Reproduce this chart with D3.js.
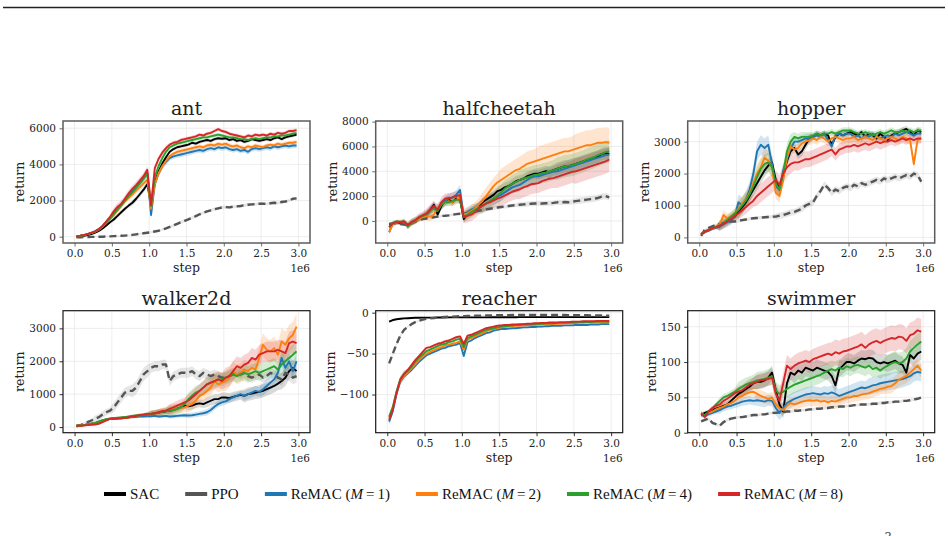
<!DOCTYPE html>
<html>
<head>
<meta charset="utf-8" />
<title>ReMAC returns</title>
<script src="https://d3js.org/d3.v7.min.js"></script>
<style>
  body { margin: 0; background: #fff; }
  svg { display: block; font-family: "DejaVu Serif", serif; }
  text { fill: #222; }
</style>
</head>
<body>
<svg id="chart"></svg>
<script>
// training step (x 1e6)
var steps = [0.025,0.075,0.125,0.175,0.225,0.275,0.325,0.375,0.425,0.475,
  0.525,0.575,0.625,0.675,0.725,0.775,0.825,0.875,0.925,0.975,
  1.025,1.075,1.125,1.175,1.225,1.275,1.325,1.375,1.425,1.475,
  1.525,1.575,1.625,1.675,1.725,1.775,1.825,1.875,1.925,1.975,
  2.025,2.075,2.125,2.175,2.225,2.275,2.325,2.375,2.425,2.475,
  2.525,2.575,2.625,2.675,2.725,2.775,2.825,2.875,2.925,2.975];
var xTicks = [0, 0.5, 1.0, 1.5, 2.0, 2.5, 3.0];

var methods = ["SAC", "PPO", "M=1", "M=2", "M=4", "M=8"];
var colors = ["#000000", "#555555", "#1f77b4", "#ff7f0e", "#2ca02c", "#d62728"];

// ---- ant ----
var antSAC = [0,20,50,90,140,220,320,450,620,800, 950,1150,1350,1550,1720,1880,2100,2350,2600,2900,
  1750,3000,3600,4050,4400,4700,4850,4950,5000,5050, 5100,5200,5150,5250,5300,5350,5300,5400,5450,5420,
  5450,5350,5400,5300,5350,5250,5300,5400,5350,5300, 5350,5400,5350,5450,5500,5400,5500,5550,5600,5650];
var antPPO = [-30,-30,-20,-20,-10,-10,0,0,10,20, 30,40,50,60,80,100,130,160,190,220,
  250,290,330,390,460,540,620,710,800,880, 960,1050,1140,1240,1320,1400,1460,1520,1570,1620,
  1640,1620,1660,1680,1700,1740,1770,1790,1800,1820, 1830,1810,1850,1880,1860,1920,1950,2000,2100,2120];
var antM1 = [20,50,90,140,210,300,420,600,820,1050, 1300,1550,1800,2050,2300,2550,2750,3000,3250,3550,
  1200,2900,3500,3900,4150,4350,4450,4500,4550,4600, 4650,4700,4750,4800,4750,4850,4900,4850,4950,4900,
  4950,4850,4800,4850,4750,4800,4700,4850,4900,4850, 4900,4950,4900,5000,4950,5000,5050,5000,5050,5050];
var antM2 = [20,50,90,140,200,280,380,550,760,980, 1200,1450,1700,1950,2150,2350,2550,2750,2950,3150,
  1550,2900,3500,3900,4200,4450,4600,4700,4750,4800, 4850,4900,4950,5000,4950,5050,5100,5050,5150,5100,
  5150,5050,5000,5050,4950,4900,5000,4950,5050,5000, 4950,5050,5100,5050,5150,5100,5150,5200,5200,5250];
var antM4 = [30,50,90,140,200,280,400,560,780,1000, 1250,1500,1750,2000,2250,2450,2700,2950,3200,3500,
  1700,3300,3900,4350,4700,4950,5050,5150,5200,5250, 5300,5350,5400,5450,5500,5500,5550,5600,5650,5600,
  5550,5500,5500,5450,5400,5400,5350,5400,5450,5400, 5450,5500,5500,5550,5550,5600,5600,5650,5700,5750];
var antM8 = [30,60,100,160,220,300,420,600,850,1100, 1400,1650,1800,2100,2400,2650,2850,3100,3350,3700,
  1750,3800,4300,4650,4900,5100,5200,5250,5350,5400, 5450,5500,5550,5650,5600,5700,5750,5850,5950,5850,
  5800,5700,5650,5600,5550,5500,5600,5550,5650,5600, 5650,5600,5700,5650,5750,5700,5750,5850,5850,5900];
var antSd = [[20,60,120,150,120,100,100,100,100,100,100,100], [10,20,30,40,60,80,80,80,80,80,80,80],
  [20,60,150,180,200,150,150,150,150,150,150,150], [20,60,150,180,150,120,120,120,120,120,120,120],
  [20,60,150,180,150,100,100,100,100,100,100,100], [20,80,200,200,150,100,100,100,100,100,100,100]];
var antTicks = [0, 2000, 4000, 6000];

// ---- halfcheetah ----
var hcSAC = [-300,-200,-100,-150,-80,-350,-150,0,200,350, 500,900,1300,500,1200,1600,1700,1500,1800,1700,
  150,600,800,1000,1200,1500,1700,1900,2100,2400, 2500,2700,2800,3000,3200,3300,3400,3600,3700,3800,
  3800,3900,4000,3900,4100,4200,4300,4400,4400,4500, 4600,4700,4800,4900,5000,5100,5200,5400,5450,5400];
var hcPPO = [-250,-200,-200,-250,-300,-350,-200,-50,50,150, 200,250,300,350,400,420,450,500,550,580,
  600,650,700,760,820,880,930,980,1030,1080, 1120,1160,1200,1240,1270,1300,1330,1360,1380,1400,
  1420,1400,1420,1420,1450,1500,1480,1520,1500,1550, 1600,1640,1680,1720,1760,1800,1850,1950,2000,1900];
var hcM1 = [-900,-200,-100,-100,-50,-400,-100,0,250,400, 500,800,1100,900,1300,1600,1800,1900,2100,2500,
  400,700,900,1000,1100,1200,1400,1600,1800,1950, 2100,2300,2500,2700,2800,2900,3100,3300,3500,3600,
  3600,3700,3800,3900,3950,4000,4100,4200,4300,4400, 4500,4600,4700,4800,4900,5000,5100,5200,5300,5350];
var hcM2 = [-900,-250,-100,-100,-50,-400,-150,0,150,300, 400,350,500,1100,1300,1500,1600,1500,1700,1900,
  500,600,800,1000,1300,1600,2000,2400,2800,3100, 3300,3500,3700,3900,4100,4200,4400,4600,4700,4800,
  4900,5000,5100,5200,5300,5400,5500,5600,5600,5700, 5800,5900,6000,6100,6100,6200,6300,6300,6350,6300];
var hcM4 = [-500,-150,-50,-100,-50,-450,-100,50,250,400, 500,800,1000,800,1300,1500,1500,1600,1700,1700,
  300,500,700,900,1000,1200,1400,1600,1800,2050, 2300,2600,2800,3000,3150,3300,3400,3500,3600,3700,
  3750,3850,3900,4000,4100,4200,4300,4400,4450,4500, 4600,4700,4800,4950,5050,5150,5300,5400,5550,5600];
var hcM8 = [-500,-200,-100,-100,-50,-350,-100,50,300,450, 600,900,1200,900,1500,1800,1850,1900,2000,2100,
  300,400,500,700,1000,1250,1400,1500,1650,1800, 1900,2050,2200,2350,2450,2550,2700,2800,2950,3000,
  3050,3200,3300,3400,3450,3550,3650,3750,3850,3950, 4000,4100,4200,4300,4400,4500,4600,4700,4800,4950];
var hcSd = [[150,200,300,300,300,350,400,400,450,500,500,500], [100,100,100,100,100,150,150,200,200,200,250,250],
  [200,250,400,400,400,500,500,500,500,600,600,600], [200,250,350,350,500,700,900,1000,1100,1100,1200,1200],
  [150,250,300,300,400,600,700,800,800,900,900,900], [150,300,400,400,500,600,700,800,800,900,1000,1000]];
var hcTicks = [0, 2000, 4000, 6000, 8000];

// ---- hopper ----
var hopSAC = [100,180,220,280,320,350,420,500,550,650, 800,950,1100,1300,1500,1700,1900,2100,2250,2350,
  1800,1500,1900,2400,2700,2800,2600,2700,2900,3100, 3150,3250,3200,3250,3200,2900,3150,3250,3200,3250,
  3300,3250,3200,3300,3150,3250,3200,3100,3250,3150, 3050,3200,3250,3300,3350,3400,3300,3200,3350,3300];
var hopPPO = [50,250,300,350,400,420,450,480,500,500, 520,540,560,580,600,610,620,630,640,650,
  650,680,700,740,780,800,850,900,1000,1050, 1100,1300,1450,1650,1550,1400,1500,1450,1550,1600,
  1550,1650,1600,1700,1650,1700,1750,1800,1750,1850, 1800,1850,1900,1850,1900,1950,1900,2000,1950,1750];
var hopM1 = [100,170,220,270,300,350,420,480,550,650, 1100,1000,1200,1500,2000,2700,2900,2800,2900,2300,
  1600,1500,2100,2450,2800,3000,3000,3050,3100,3100, 3150,3200,3150,3250,3050,2850,3200,3250,3200,3250,
  3250,3150,3200,3100,3200,3150,3250,3150,3100,3150, 3200,3150,3250,3200,3250,3300,3250,3200,3250,3250];
var hopM2 = [100,180,230,280,320,400,700,600,650,750, 900,1050,1200,1400,1700,2000,2200,2500,2400,2200,
  1400,1300,1800,2500,2850,2750,2800,2950,3000,3050, 3100,3050,3150,3100,3000,3100,3150,3100,3050,3100,
  3100,3150,3050,3100,3150,3100,3050,3150,3100,3050, 3100,3150,3100,3050,3150,3100,3050,2300,3050,3100];
var hopM4 = [100,180,230,290,330,380,450,550,650,750, 850,1000,1150,1350,1600,1900,2150,2300,2350,2200,
  1700,1500,2000,2700,3000,3150,3100,3150,3150,3150, 3200,3250,3200,3250,3250,3300,3250,3300,3350,3350,
  3350,3300,3250,3250,3300,3250,3200,3250,3300,3250, 3300,3350,3300,3300,3350,3300,3350,3300,3350,3350];
var hopM8 = [100,180,230,290,320,370,430,500,580,680, 750,850,950,1050,1150,1300,1400,1500,1600,1700,
  1800,1650,2000,2200,2300,2350,2350,2400,2450,2450, 2500,2550,2600,2650,2700,2750,2600,2750,2800,2850,
  2850,2900,2850,2900,2950,2900,2950,3000,2950,3000, 3000,3050,3000,3050,3100,3050,3100,3050,3100,3100];
var hopSd = [[50,100,200,200,150,150,100,100,100,100,100,100], [30,50,50,50,100,100,100,100,100,100,100,100],
  [50,150,250,300,200,150,100,100,100,100,100,100], [50,150,250,300,200,150,150,150,150,150,150,150],
  [50,150,250,300,250,150,100,100,100,100,100,100], [50,150,200,300,300,250,250,200,200,200,150,150]];
var hopTicks = [0, 1000, 2000, 3000];

// ---- walker2d ----
var walSAC = [40,50,60,80,100,120,150,180,220,250, 260,270,280,290,300,310,330,350,370,390,
  400,420,440,460,480,500,520,560,600,650, 630,650,700,720,700,750,800,850,850,900,
  900,880,920,950,980,950,1000,1020,1050,1070, 1100,1150,1200,1250,1320,1400,1500,1700,1800,1700];
var walPPO = [20,50,100,150,200,250,300,380,450,500, 600,750,900,1050,1100,1100,1200,1400,1600,1700,
  1800,1850,1850,1900,1900,1400,1550,1600,1650,1650, 1650,1700,1600,1550,1650,1600,1550,1600,1550,1500,
  1500,1550,1600,1650,1600,1650,1550,1500,1550,1600, 1500,1550,1650,1600,1500,1450,1650,1600,1500,1550];
var walM1 = [40,50,60,80,100,120,160,200,230,250, 260,270,280,290,300,310,310,320,320,330,
  330,340,320,330,340,320,330,340,350,360, 350,360,380,400,420,450,520,620,700,750,
  780,850,900,950,1000,950,1000,1050,1100,1070, 1150,1250,1350,1450,1650,2100,1800,2000,1700,2000];
var walM2 = [40,50,60,80,100,120,160,200,230,250, 260,270,280,290,300,320,340,360,380,400,
  400,420,450,480,500,520,540,560,580,600, 650,700,800,950,1000,1100,1200,1400,1300,1350,
  1400,1500,1700,1600,1650,1750,1700,1800,1750,2100, 2500,2350,2300,2400,2200,2600,2500,2700,2800,3050];
var walM4 = [40,50,60,80,100,130,170,210,240,260, 270,280,290,300,320,340,350,360,370,380,
  400,420,440,460,480,500,520,550,600,700, 850,950,1050,1100,1200,1300,1350,1400,1450,1450,
  1500,1550,1600,1550,1600,1650,1600,1650,1700,1650, 1700,1750,1800,1850,1750,1900,2000,2100,2200,2300];
var walM8 = [40,40,50,60,70,80,100,150,200,250, 250,270,260,280,300,320,340,360,380,400,
  400,420,450,480,500,550,600,650,700,750, 800,900,1000,1100,1200,1300,1350,1400,1450,1400,
  1500,1550,1700,1850,1800,1900,1950,2100,2050,2200, 2250,2300,2300,2300,2350,2300,2250,2550,2600,2550];
var walSd = [[20,30,40,50,80,100,120,150,150,200,200,250], [50,100,150,200,150,150,150,150,150,150,150,200],
  [20,30,40,40,50,60,80,100,100,150,200,250], [20,30,40,50,100,150,200,250,300,300,350,400],
  [20,30,40,50,100,150,200,200,200,250,250,300], [20,30,40,50,100,150,200,250,300,300,300,350]];
var walTicks = [0, 1000, 2000, 3000];

// ---- reacher ----
var reaSAC = [-11,-9,-8,-7.5,-7,-6.8,-6.5,-6.3,-6.2,-6.1, -6,-6,-6,-5.9,-5.9,-5.9,-5.8,-5.8,-5.8,-5.8,
  -5.8,-5.7,-5.7,-5.7,-5.7,-5.7,-5.7,-5.6,-5.6,-5.6, -5.6,-5.6,-5.6,-5.6,-5.6,-5.5,-5.5,-5.5,-5.5,-5.5,
  -5.5,-5.5,-5.5,-5.5,-5.5,-5.5,-5.5,-5.5,-5.5,-5.5, -5.5,-5.5,-5.5,-5.5,-5.5,-5.5,-5.5,-5.5,-5.5,-5.5];
var reaPPO = [-62,-50,-38,-28,-21,-17,-14,-11.5,-10,-8.5, -7.5,-7,-6.5,-6,-5.5,-5.2,-5,-4.8,-4.6,-4.4,
  -4.2,-4,-3.9,-3.8,-3.7,-3.6,-3.5,-3.4,-3.3,-3.2, -3.1,-3,-3,-2.9,-2.9,-2.8,-2.8,-2.8,-2.7,-2.7,
  -2.7,-2.7,-2.7,-2.8,-2.8,-2.8,-2.9,-2.9,-3,-3, -3,-3.1,-3.2,-3.2,-3.3,-3.4,-3.5,-3.5,-3.6,-3.7];
var reaM1 = [-133,-120,-99,-84,-78,-74,-70,-65,-60,-56, -52,-50,-48,-46,-44,-43,-41,-40,-39,-37,
  -53,-36,-34,-31,-29,-27,-25,-24,-22,-21, -20,-20,-19.5,-19,-19,-18.5,-18,-18,-17.5,-17.5,
  -17,-17,-16.5,-16.5,-16,-16,-16,-15.5,-15.5,-15.5, -15,-15,-15,-15,-14.5,-14.5,-14.5,-14,-14,-14];
var reaM2 = [-128,-116,-97,-83,-77,-73,-68,-63,-58,-54, -50,-48,-46,-44,-42,-40,-39,-38,-37,-35,
  -45,-33,-31,-29,-27,-25,-23,-21,-20,-19, -18,-17.5,-17,-16.5,-16,-16,-15.5,-15.5,-15,-15,
  -14.5,-14.5,-14,-14,-14,-13.5,-13.5,-13,-13,-13, -12.5,-12.5,-12.5,-12,-12,-12,-12,-11.5,-11.5,-11.5];
var reaM4 = [-127,-115,-96,-81,-75,-71,-66,-60,-55,-51, -47,-45,-43,-41,-39,-38,-36,-35,-33,-32,
  -42,-31,-29,-27,-25,-23,-21,-20,-19,-18, -17,-16.5,-16,-15.5,-15,-15,-14.5,-14.5,-14,-14,
  -13.5,-13.5,-13,-13,-13,-12.5,-12.5,-12.5,-12,-12, -12,-11.5,-11.5,-11.5,-11.5,-11,-11,-11,-11,-11];
var reaM8 = [-131,-118,-98,-82,-75,-70,-64,-58,-53,-48, -43,-42,-40,-38,-37,-35,-34,-32,-30,-29,
  -38,-28,-27,-25,-23,-21,-19,-18,-17,-16, -15.5,-15,-15,-14.5,-14.5,-14,-14,-13.5,-13.5,-13,
  -13,-12.5,-12.5,-12,-12,-12,-11.5,-11.5,-11.5,-11, -11,-11,-10.5,-10.5,-10.5,-10.5,-10,-10,-10,-10];
var reaSd = [[1,0.5,0.5,0.5,0.5,0.5,0.5,0.5,0.5,0.5,0.5,0.5], [2,1,0.5,0.5,0.5,0.5,0.5,0.5,0.5,0.5,0.5,0.5],
  [4,2,1.5,1.5,1,1,1,1,1,1,1,1], [4,2,1.5,1.5,1,1,1,1,1,1,1,1],
  [4,2,1.5,1.5,1,1,1,1,1,1,1,1], [4,2,1.5,1.5,1,1,1,1,1,1,1,1]];
var reaTicks = [-100, -50, 0];

// ---- swimmer ----
var swiSAC = [25,28,30,32,34,36,38,40,45,50, 55,58,62,65,70,72,72,74,78,85,
  60,40,30,70,85,82,88,85,92,90, 88,92,90,88,86,80,67,90,95,100,
  100,98,102,105,104,106,105,100,98,100, 98,100,102,98,96,85,110,105,112,115];
var swiPPO = [16,18,20,14,12,10,15,18,20,21, 22,22,23,24,25,25,26,26,27,28,
  28,29,29,30,30,31,31,32,32,33, 33,34,34,35,35,36,36,37,37,38,
  38,39,39,40,40,40,41,41,42,42, 43,43,44,44,45,45,46,47,48,50];
var swiM1 = [25,24,26,28,30,32,35,37,38,40, 42,44,45,46,45,46,45,44,46,45,
  35,28,35,42,45,48,50,52,54,55, 56,55,54,56,55,57,55,52,54,56,
  58,60,62,64,63,65,67,68,70,71, 72,73,74,75,76,78,80,84,86,85];
var swiM2 = [27,25,28,30,33,35,37,40,42,45, 50,52,55,57,58,55,52,50,48,50,
  40,35,32,38,42,40,42,44,45,46, 45,46,44,45,43,45,44,46,48,50,
  50,52,52,54,55,56,58,60,62,63, 65,66,70,75,78,80,85,90,95,88];
var swiM4 = [28,24,30,34,40,45,50,52,55,58, 62,65,68,70,72,74,75,76,78,80,
  60,55,58,62,65,68,70,72,74,76, 78,80,82,85,88,90,88,92,90,94,
  92,95,96,94,92,95,90,92,88,92, 95,98,100,98,100,105,115,120,125,129];
var swiM8 = [27,22,30,35,38,40,45,48,52,56, 58,60,64,68,70,72,74,75,76,78,
  55,45,70,95,90,95,98,100,102,100, 104,106,108,110,112,110,114,112,115,116,
  118,120,122,125,120,125,128,130,127,130, 132,134,133,136,135,130,138,140,145,143];
var swiSd = [[3,5,8,10,10,12,12,12,12,12,12,12], [2,2,2,2,2,2,2,2,2,2,2,2],
  [3,5,6,8,10,10,10,10,10,12,12,12], [3,5,6,8,8,8,8,8,8,8,10,10],
  [3,5,10,12,12,12,12,12,12,12,15,15], [3,5,8,10,15,15,15,18,18,18,18,18]];
var swiTicks = [0, 50, 100, 150];

var panels = [
  {title: "ant", series: [antSAC, antPPO, antM1, antM2, antM4, antM8], sd: antSd, ticks: antTicks, ylim: [-349, 6404]},
  {title: "halfcheetah", series: [hcSAC, hcPPO, hcM1, hcM2, hcM4, hcM8], sd: hcSd, ticks: hcTicks, ylim: [-1778, 8050]},
  {title: "hopper", series: [hopSAC, hopPPO, hopM1, hopM2, hopM4, hopM8], sd: hopSd, ticks: hopTicks, ylim: [-175, 3647]},
  {title: "walker2d", series: [walSAC, walPPO, walM1, walM2, walM4, walM8], sd: walSd, ticks: walTicks, ylim: [-171, 3537]},
  {title: "reacher", series: [reaSAC, reaPPO, reaM1, reaM2, reaM4, reaM8], sd: reaSd, ticks: reaTicks, ylim: [-146.6, 2.4]},
  {title: "swimmer", series: [swiSAC, swiPPO, swiM1, swiM2, swiM4, swiM8], sd: swiSd, ticks: swiTicks, ylim: [0, 172.7]}
];

var width = 948, height = 536;
var svg = d3.select("#chart").attr("width", width).attr("height", height);

var colLeft = [63, 375.7, 687.7];
var rowTop = [121, 310.7];
var axW = 247, axH = 122;
var spine = ["#5c5c5c", "#1a1a1a"];

// page rule at the top
svg.append("line").attr("x1", 3).attr("x2", 945).attr("y1", 7.5).attr("y2", 7.5)
  .attr("stroke", "#222").attr("stroke-width", 1.3);

panels.forEach(function(p, k) {
  var row = Math.floor(k / 3);
  var left = colLeft[k % 3], top = rowTop[row];

  var x = d3.scaleLinear().domain([-0.155, 3.155]).range([left, left + axW]);
  var y = d3.scaleLinear().domain(p.ylim).range([top + axH, top]);

  var g = svg.append("g");

  g.append("clipPath").attr("id", "clip" + k)
    .append("rect").attr("x", left).attr("y", top).attr("width", axW).attr("height", axH);

  // grid
  g.selectAll(".gx").data(xTicks).enter().append("line")
    .attr("x1", function(d) { return x(d); }).attr("x2", function(d) { return x(d); })
    .attr("y1", top).attr("y2", top + axH)
    .attr("stroke", "#e8e8e8").attr("stroke-width", 0.8);
  g.selectAll(".gy").data(p.ticks).enter().append("line")
    .attr("x1", left).attr("x2", left + axW)
    .attr("y1", function(d) { return y(d); }).attr("y2", function(d) { return y(d); })
    .attr("stroke", "#e8e8e8").attr("stroke-width", 0.8);

  var plot = g.append("g").attr("clip-path", "url(#clip" + k + ")");

  // shaded bands
  p.series.forEach(function(vals, m) {
    var sd = p.sd[m];
    var area = d3.area()
      .x(function(d, i) { return x(steps[i]); })
      .y0(function(d, i) { return y(d - sd[Math.floor(i / 5)]); })
      .y1(function(d, i) { return y(d + sd[Math.floor(i / 5)]); });
    plot.append("path").datum(vals)
      .attr("d", area)
      .attr("fill", colors[m]).attr("fill-opacity", m < 2 ? 0.15 : 0.2);
  });

  // mean lines
  p.series.forEach(function(vals, m) {
    var line = d3.line()
      .x(function(d, i) { return x(steps[i]); })
      .y(function(d) { return y(d); });
    plot.append("path").datum(vals)
      .attr("d", line)
      .attr("fill", "none")
      .attr("stroke", colors[m])
      .attr("stroke-width", m == 1 ? 2.4 : 1.9)
      .attr("stroke-dasharray", m == 1 ? "7,4" : null)
      .attr("stroke-linejoin", "round");
  });

  // axes
  var xAxis = d3.axisBottom(x).tickValues(xTicks).tickFormat(d3.format(".1f"))
    .tickSize(3.5).tickSizeOuter(0).tickPadding(3.5);
  var gx = g.append("g").attr("transform", "translate(0," + (top + axH) + ")").call(xAxis);
  var yAxis = d3.axisLeft(y).tickValues(p.ticks).tickFormat(d3.format("d"))
    .tickSize(3.5).tickSizeOuter(0).tickPadding(3.5);
  var gy = g.append("g").attr("transform", "translate(" + left + ",0)").call(yAxis);

  [gx, gy].forEach(function(a) {
    a.select(".domain").remove();
    a.selectAll(".tick line").attr("stroke", spine[row]).attr("stroke-width", 0.9);
    a.selectAll(".tick text").style("font-family", "'DejaVu Serif', serif").style("font-size", "10.5px").style("fill", "#222");
  });

  g.append("rect").attr("x", left).attr("y", top).attr("width", axW).attr("height", axH)
    .attr("fill", "none").attr("stroke", spine[row]).attr("stroke-width", row == 0 ? 1.5 : 1.2);

  // labels
  g.append("text").attr("x", left + axW / 2).attr("y", top - 6)
    .attr("text-anchor", "middle").style("font-size", "19px").text(p.title);
  g.append("text").attr("x", left + axW / 2).attr("y", top + axH + 29)
    .attr("text-anchor", "middle").style("font-size", "12.5px").text("step");
  g.append("text").attr("x", left + axW).attr("y", top + axH + 29)
    .attr("text-anchor", "end").style("font-size", "10.5px").text("1e6");

  var maxW = 0;
  gy.selectAll(".tick text").each(function() { maxW = Math.max(maxW, this.getBBox().width); });
  var lx = left - 7 - maxW - 5;
  g.append("text")
    .attr("transform", "translate(" + lx + "," + (top + axH / 2) + ") rotate(-90)")
    .attr("text-anchor", "middle").style("font-size", "12.5px").text("return");
});

// legend
var legend = svg.append("g").attr("transform", "translate(0,494)");
var lx = 104;
methods.forEach(function(name, m) {
  legend.append("line").attr("x1", lx).attr("x2", lx + 22).attr("y1", 0).attr("y2", 0)
    .attr("stroke", colors[m]).attr("stroke-width", 4);
  var t = legend.append("text").attr("x", lx + 26).attr("y", 5)
    .style("font-family", "'Liberation Serif', serif").style("font-size", "15px").style("fill", "#111");
  if (m < 2) {
    t.text(name);
  } else {
    t.append("tspan").text("ReMAC (");
    t.append("tspan").style("font-style", "italic").text("M");
    t.append("tspan").text("\u2009=\u2009" + name.split("=")[1] + ")");
  }
  lx += 26 + t.node().getBBox().width + 26;
});

// page number, cut off by the page edge
svg.append("text").attr("x", 888).attr("y", 542).attr("text-anchor", "middle")
  .style("font-size", "12px").style("fill", "#444").text("3");
</script>
</body>
</html>
